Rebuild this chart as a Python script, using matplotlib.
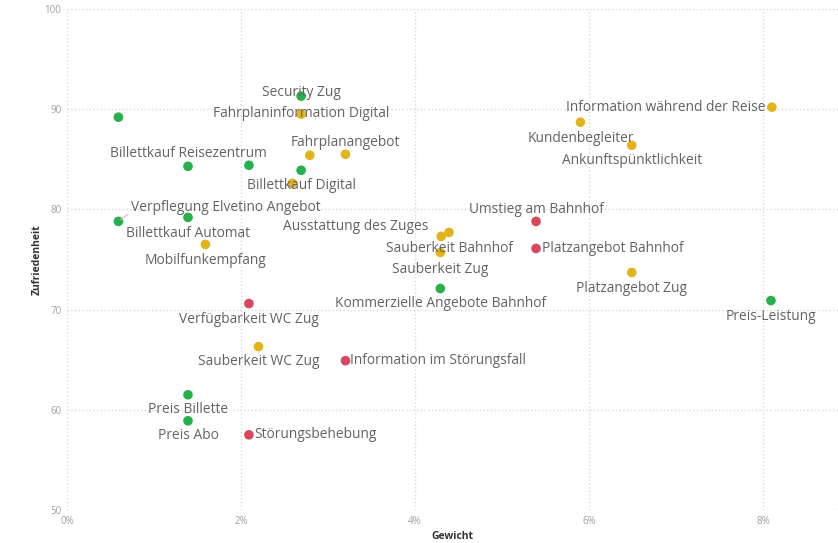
import matplotlib
matplotlib.use('Agg')
import matplotlib.pyplot as plt
import matplotlib.ticker as mticker

# Gewicht (%), Zufriedenheit, Farbgruppe, Beschriftung
labels = ['', 'Security Zug', 'Billettkauf Reisezentrum', '', 'Billettkauf Digital',
          'Verpflegung Elvetino Angebot', 'Billettkauf Automat',
          'Kommerzielle Angebote Bahnhof', 'Preis-Leistung', 'Preis Billette', 'Preis Abo',
          'Fahrplaninformation Digital', '', 'Fahrplanangebot', '', 'Mobilfunkempfang',
          'Information während der Reise', 'Kundenbegleiter', 'Ankunftspünktlichkeit',
          'Sauberkeit Bahnhof', 'Ausstattung des Zuges', 'Sauberkeit Zug',
          'Platzangebot Zug', 'Sauberkeit WC Zug',
          'Umstieg am Bahnhof', 'Platzangebot Bahnhof', 'Verfügbarkeit WC Zug',
          'Information im Störungsfall', 'Störungsbehebung']
gewicht = [0.59, 2.69, 1.39, 2.09, 2.69, 0.59, 1.39, 4.29, 8.09, 1.39, 1.39,
           2.69, 2.79, 3.20, 2.59, 1.59, 8.10, 5.90, 6.49, 4.39, 4.30, 4.29, 6.49, 2.20,
           5.39, 5.39, 2.09, 3.20, 2.09]
zufriedenheit = [89.2, 91.3, 84.3, 84.4, 83.9, 78.8, 79.2, 72.1, 70.9, 61.5, 58.9,
                 89.5, 85.4, 85.5, 82.6, 76.5, 90.2, 88.7, 86.4, 77.7, 77.3, 75.7, 73.7, 66.3,
                 78.8, 76.1, 70.6, 64.9, 57.5]
gruppe = ['g'] * 11 + ['y'] * 13 + ['r'] * 5

farben = {'g': '#27b04b', 'y': '#e3b31c', 'r': '#d8475d'}

# label placement: (dx px, dy px, ha)
pos = {
    'Security Zug': (0, 4, 'center'),
    'Billettkauf Reisezentrum': (0, 13, 'center'),
    'Billettkauf Digital': (0, -15, 'center'),
    'Verpflegung Elvetino Angebot': (13, 14, 'left'),
    'Billettkauf Automat': (0, -16, 'center'),
    'Kommerzielle Angebote Bahnhof': (0, -15, 'center'),
    'Preis-Leistung': (0, -16, 'center'),
    'Preis Billette': (0, -15, 'center'),
    'Preis Abo': (0, -15, 'center'),
    'Fahrplaninformation Digital': (0, 1, 'center'),
    'Fahrplanangebot': (0, 12, 'center'),
    'Mobilfunkempfang': (0, -16, 'center'),
    'Information während der Reise': (-6, 0, 'right'),
    'Kundenbegleiter': (0, -16, 'center'),
    'Ankunftspünktlichkeit': (0, -15, 'center'),
    'Sauberkeit Bahnhof': (0, -16, 'center'),
    'Ausstattung des Zuges': (-13, 10, 'right'),
    'Sauberkeit Zug': (0, -17, 'center'),
    'Platzangebot Zug': (0, -16, 'center'),
    'Sauberkeit WC Zug': (0, -15, 'center'),
    'Umstieg am Bahnhof': (0, 12, 'center'),
    'Platzangebot Bahnhof': (6, 0, 'left'),
    'Verfügbarkeit WC Zug': (0, -16, 'center'),
    'Information im Störungsfall': (5, 0, 'left'),
    'Störungsbehebung': (5, 0, 'left'),
}

plt.rcParams['font.family'] = ['Open Sans', 'DejaVu Sans']

fig = plt.figure(figsize=(8.38, 5.43), dpi=100)
ax = fig.add_axes([0.08, 0.0608, 0.92, 0.9227])

ax.scatter(gewicht, zufriedenheit, c=[farben[g] for g in gruppe], s=48,
           linewidths=0, zorder=3)

for lab, x, y in zip(labels, gewicht, zufriedenheit):
    if not lab:
        continue
    dx, dy, ha = pos[lab]
    ax.annotate(lab, (x, y), xytext=(dx, dy), textcoords='offset pixels',
                ha=ha, va='center', fontsize=9.9, color='#636363', zorder=4)
    if lab == 'Verpflegung Elvetino Angebot':
        ax.annotate('', (x, y), xytext=(12, 9), textcoords='offset pixels',
                    arrowprops=dict(arrowstyle='-', color='#e8b0b8', lw=0.8))

ax.set_xlim(0, 8.86)
ax.set_ylim(50, 100)
ax.set_xticks([0, 2, 4, 6, 8])
ax.set_yticks([50, 60, 70, 80, 90, 100])
ax.xaxis.set_major_formatter(mticker.FuncFormatter(lambda v, p: '%d%%' % v))
ax.grid(True, linestyle=':', color='#dadada', linewidth=1)
ax.set_axisbelow(True)
for s in ax.spines.values():
    s.set_visible(False)
ax.tick_params(length=0, labelsize=7, labelcolor='#a0a0a0', pad=4)

ax.set_xlabel('Gewicht', fontsize=7.5, fontweight='bold', color='#333333', labelpad=3)
ax.set_ylabel('Zufriedenheit', fontsize=7.5, fontweight='bold', color='#333333', labelpad=1)

fig.savefig('out.png', dpi=100)
